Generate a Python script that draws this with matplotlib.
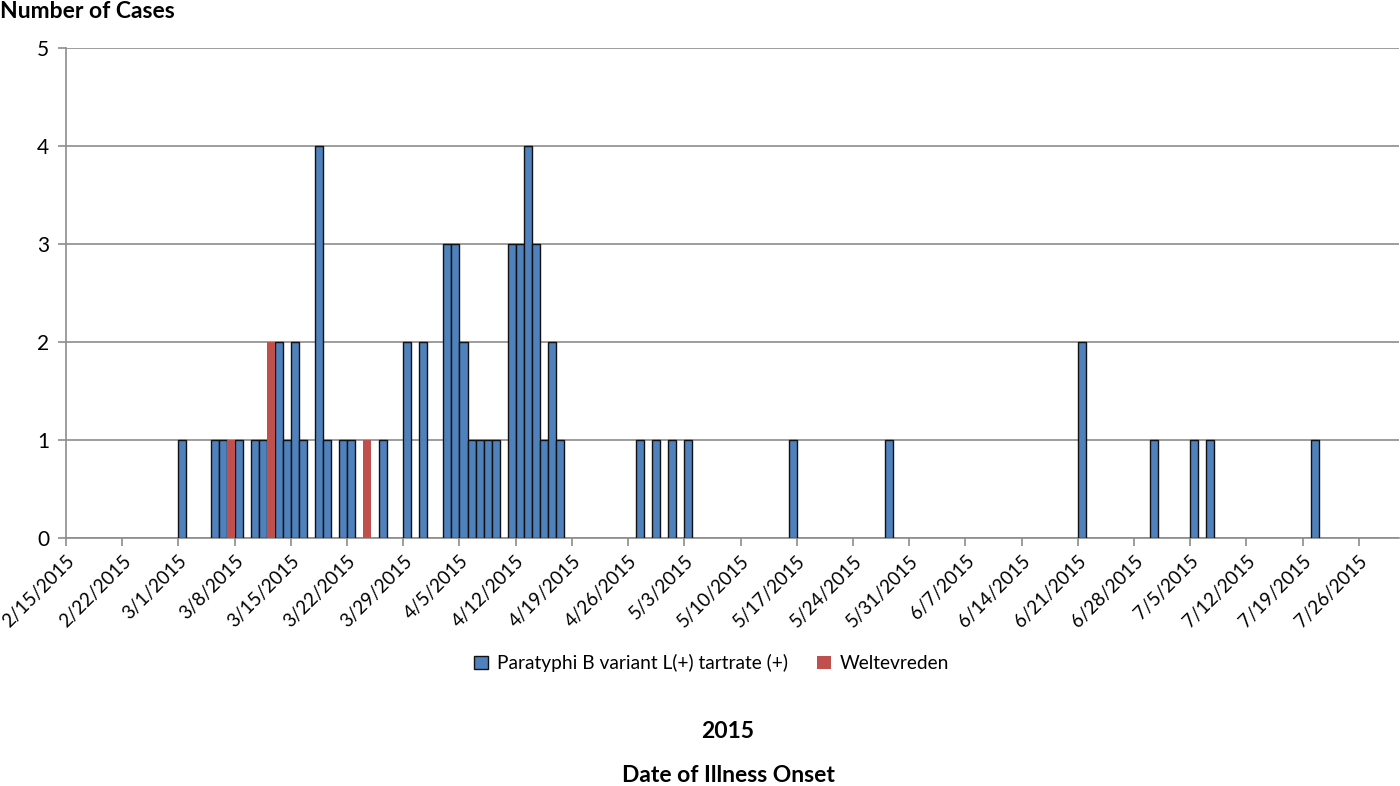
import datetime as dt
import matplotlib
matplotlib.use('Agg')
import matplotlib.pyplot as plt
from matplotlib.patches import Patch

# data
blue_dates = ['3/1', '3/5', '3/6', '3/8', '3/10', '3/11', '3/13', '3/14', '3/15', '3/16',
              '3/18', '3/19', '3/21', '3/22', '3/26', '3/29', '3/31', '4/3', '4/4', '4/5',
              '4/6', '4/7', '4/8', '4/9', '4/11', '4/12', '4/13', '4/14', '4/15', '4/16',
              '4/17', '4/27', '4/29', '5/1', '5/3', '5/16', '5/28', '6/21', '6/30', '7/5',
              '7/7', '7/20']
blue_counts = [1, 1, 1, 1, 1, 1, 2, 1, 2, 1,
               4, 1, 1, 1, 1, 2, 2, 3, 3, 2,
               1, 1, 1, 1, 3, 3, 4, 3, 1, 2,
               1, 1, 1, 1, 1, 1, 1, 2, 1, 1,
               1, 1]
red_dates = ['3/7', '3/12', '3/24']
red_counts = [1, 2, 1]

series_names = ['Paratyphi B variant L(+) tartrate (+)', 'Weltevreden']


def to_date(s):
    m, d = s.split('/')
    return dt.date(2015, int(m), int(d))


plt.rcParams['font.family'] = ['Lato', 'DejaVu Sans']

fig = plt.figure(figsize=(14, 7.86), dpi=100)
ax = fig.add_axes([66 / 1400, 1 - 538 / 786, (1399 - 66) / 1400, (538 - 48) / 786])

blue_x = [to_date(s) for s in blue_dates]
red_x = [to_date(s) for s in red_dates]
ax.bar(blue_x, blue_counts, width=1, align='edge', color='#4F81BD',
       edgecolor='#111111', linewidth=1.0, zorder=3)
ax.bar(red_x, red_counts, width=1, align='edge', color='#C0504D',
       edgecolor='none', zorder=3)

ax.set_xlim(dt.date(2015, 2, 15), dt.date(2015, 7, 31))
ax.set_ylim(0, 5)
ax.set_yticks(range(0, 6))
ax.yaxis.grid(True, color='#8c8c8c', linewidth=1.2, zorder=0)

ticks = [dt.date(2015, 2, 15) + dt.timedelta(days=7 * i) for i in range(24)]
ax.set_xticks(ticks)
ax.set_xticklabels([f'{t.month}/{t.day}/{t.year}' for t in ticks],
                   rotation=45, ha='right', rotation_mode='anchor')
ax.tick_params(axis='both', color='#8c8c8c', length=6, width=1.2)
ax.tick_params(axis='x', labelsize=13.5, pad=4)
ax.tick_params(axis='y', labelsize=15, pad=6)

for side in ['top', 'right']:
    ax.spines[side].set_visible(False)
for side in ['left', 'bottom']:
    ax.spines[side].set_color('#8c8c8c')
    ax.spines[side].set_linewidth(1.2)

handles = [Patch(facecolor='#4F81BD', edgecolor='#111111', linewidth=1.0),
           Patch(facecolor='#C0504D', edgecolor='none')]
fig.legend(handles, series_names, loc='center', bbox_to_anchor=(712 / 1400, 1 - 663 / 786),
           ncol=2, frameon=False, fontsize=13.8, handlelength=0.7, handleheight=0.7,
           columnspacing=1.5, handletextpad=0.5)

fig.text(0.0, 1 - 12 / 786, 'Number of Cases', fontsize=16.5, fontweight='bold', va='center', ha='left')
fig.text(728 / 1400, 1 - 731 / 786, '2015', fontsize=16.5, fontweight='bold', va='center', ha='center')
fig.text(728 / 1400, 1 - 775 / 786, 'Date of Illness Onset', fontsize=16.5, fontweight='bold',
         va='center', ha='center')

fig.savefig('out.png', dpi=100)
